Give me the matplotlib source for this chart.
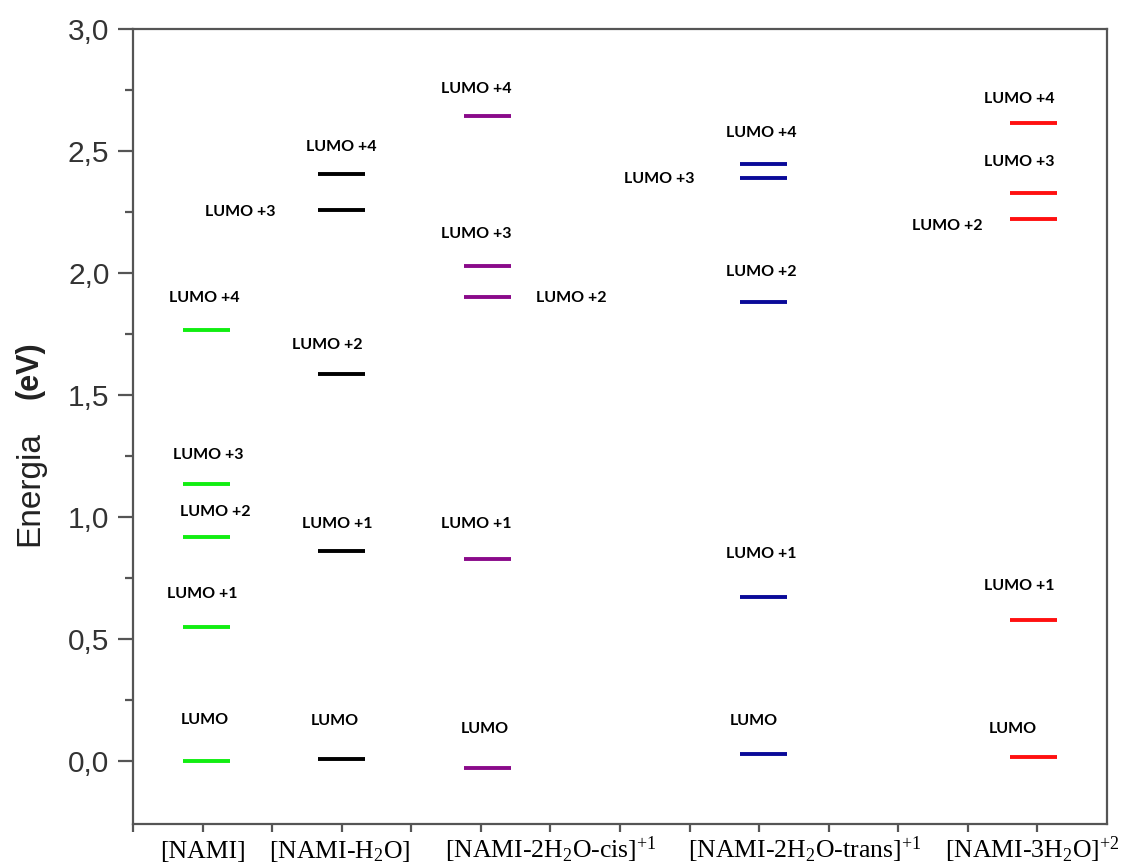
import matplotlib
matplotlib.use("Agg")
import matplotlib.pyplot as plt
from matplotlib.ticker import FixedLocator, FuncFormatter
import matplotlib.transforms as mtransforms

# ---------------- data ----------------
compounds = ['[NAMI]', '[NAMI-H$_2$O]', '[NAMI-2H$_2$O-cis]$^{+1}$',
             '[NAMI-2H$_2$O-trans]$^{+1}$', '[NAMI-3H$_2$O]$^{+2}$']
level_names = ['LUMO', 'LUMO +1', 'LUMO +2', 'LUMO +3', 'LUMO +4']
nami = [0.0, 0.549, 0.918, 1.135, 1.766]
nami_h2o = [0.008, 0.861, 1.586, 2.258, 2.406]
nami_2h2o_cis = [-0.029, 0.828, 1.902, 2.029, 2.643]
nami_2h2o_trans = [0.029, 0.672, 1.881, 2.389, 2.447]
nami_3h2o = [0.016, 0.578, 2.221, 2.328, 2.615]
series = [nami, nami_h2o, nami_2h2o_cis, nami_2h2o_trans, nami_3h2o]
y_ticks = [0.0, 0.5, 1.0, 1.5, 2.0, 2.5, 3.0]

# ---------------- layout / style ----------------
colors = ['#11ee11', '#000000', '#8a0a8a', '#0a0a99', '#ff1010']
centers = [1.06, 3.0, 5.1, 9.06, 12.94]
half_w = 0.34
cat_label_x = [1.0, 2.97, 6.0, 9.65, 12.92]
# label anchor positions (x, y) in data coords for each level label
label_pos = [
    [(1.03, 0.168), (0.99, 0.684), (1.19, 1.020), (1.08, 1.254), (1.03, 1.898)],
    [(2.90, 0.164), (2.94, 0.971), (2.80, 1.705), (1.54, 2.250), (3.00, 2.516)],
    [(5.05, 0.131), (4.94, 0.971), (6.30, 1.898), (4.94, 2.160), (4.94, 2.754)],
    [(8.93, 0.164), (9.03, 0.848), (9.03, 2.004), (7.57, 2.385), (9.03, 2.574)],
    [(12.64, 0.131), (12.74, 0.717), (11.70, 2.193), (12.74, 2.455), (12.74, 2.713)],
]

plt.rcParams['mathtext.fontset'] = 'custom'
plt.rcParams['mathtext.rm'] = 'Liberation Serif'
plt.rcParams['mathtext.it'] = 'Liberation Serif:italic'
plt.rcParams['mathtext.bf'] = 'Liberation Serif:bold'

fig = plt.figure(figsize=(11.22, 8.68), dpi=100)
ax = fig.add_axes([133/1122, 1-824/868, (1107-133)/1122, (824-29)/868])

spine_c = '#555555'
for s in ax.spines.values():
    s.set_color(spine_c)
    s.set_linewidth(1.6)

for vals, c, xc, lpos in zip(series, colors, centers, label_pos):
    for v, name, (lx, ly) in zip(vals, level_names, lpos):
        ax.hlines(v, xc - half_w, xc + half_w, colors=c, linewidth=2.8)
        ax.text(lx, ly, name, ha='center', va='center', fontsize=11.5,
                fontweight='bold', family='Lato', color='black')

ax.set_xlim(0, 14)
ax.set_ylim(-0.258, 3.0)

ax.set_yticks(y_ticks)
ax.yaxis.set_major_formatter(FuncFormatter(lambda v, p: f'{v:.1f}'.replace('.', ',')))
ax.yaxis.set_minor_locator(FixedLocator([0.25, 0.75, 1.25, 1.75, 2.25, 2.75]))
ax.tick_params(axis='y', which='major', length=11, width=1.6, color=spine_c,
               labelsize=21.5, labelcolor='#333333', pad=6)
ax.tick_params(axis='y', which='minor', length=6, width=1.6, color=spine_c)
for t in ax.get_yticklabels():
    t.set_family('Liberation Sans')

ax.set_xticks(list(range(0, 14)))
ax.set_xticklabels([])
ax.tick_params(axis='x', which='major', length=6, width=1.6, color=spine_c)

trans = mtransforms.blended_transform_factory(ax.transData, ax.transAxes)
for name, lx in zip(compounds, cat_label_x):
    ax.text(lx, -0.043, name, transform=trans, ha='center', va='baseline',
            fontsize=18.5, family='Liberation Serif', color='black', clip_on=False)

fig.text(30/1122, 1-489/868, 'Energia', rotation=90, ha='center', va='center',
         fontsize=24, family='Liberation Sans', color='#222222')
fig.text(30/1122, 1-370/868, '(eV)', rotation=90, ha='center', va='center',
         fontsize=22, family='Liberation Sans', fontweight='bold', color='#222222')

fig.savefig('out.png', dpi=100)
